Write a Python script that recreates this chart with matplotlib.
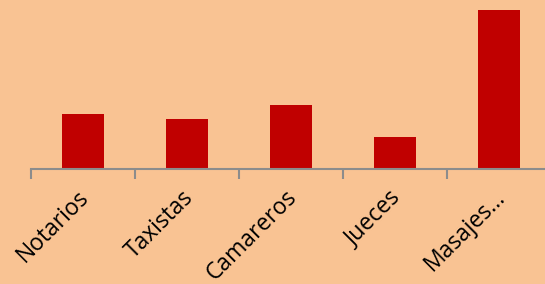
import matplotlib
matplotlib.use("Agg")
import matplotlib.pyplot as plt
import numpy as np
from matplotlib.transforms import ScaledTranslation

categories = ["Notarios", "Taxistas", "Camareros", "Jueces", "Masajes..."]
values = [55, 50, 64, 32, 159]

bg = "#F9C393"
fig = plt.figure(figsize=(5.45, 2.84), dpi=100, facecolor=bg)
# axis line sits at y=169 px, first boundary at x=31 px, 104 px per category
ax = fig.add_axes([31 / 545, 115 / 284, 520 / 545, 169 / 284])
ax.set_facecolor(bg)

x = np.arange(len(categories))
ax.bar(x, values, width=0.40, color="#C00000")
ax.set_xlim(-0.5, len(categories) - 0.5)
ax.set_ylim(0, 169)

for s in ["top", "right", "left"]:
    ax.spines[s].set_visible(False)
ax.spines["bottom"].set_color("#8C8C8C")
ax.spines["bottom"].set_linewidth(1.5)
ax.set_yticks([])

ax.set_xticks(np.arange(len(categories) + 1) - 0.5, minor=False)
ax.set_xticklabels([])
ax.tick_params(axis="x", which="major", length=7, width=1.5, color="#8C8C8C")
ax.set_xticks(x, minor=True)
ax.set_xticklabels(categories, minor=True, rotation=45, ha="right", va="top",
                   rotation_mode="anchor", fontsize=16.5, family="Open Sans")
ax.tick_params(axis="x", which="minor", length=0, pad=12)
shift = ScaledTranslation(-6 / 100, 0, fig.dpi_scale_trans)
for lab in ax.get_xticklabels(minor=True):
    lab.set_transform(lab.get_transform() + shift)

fig.savefig("out.png", dpi=100, facecolor=bg)
